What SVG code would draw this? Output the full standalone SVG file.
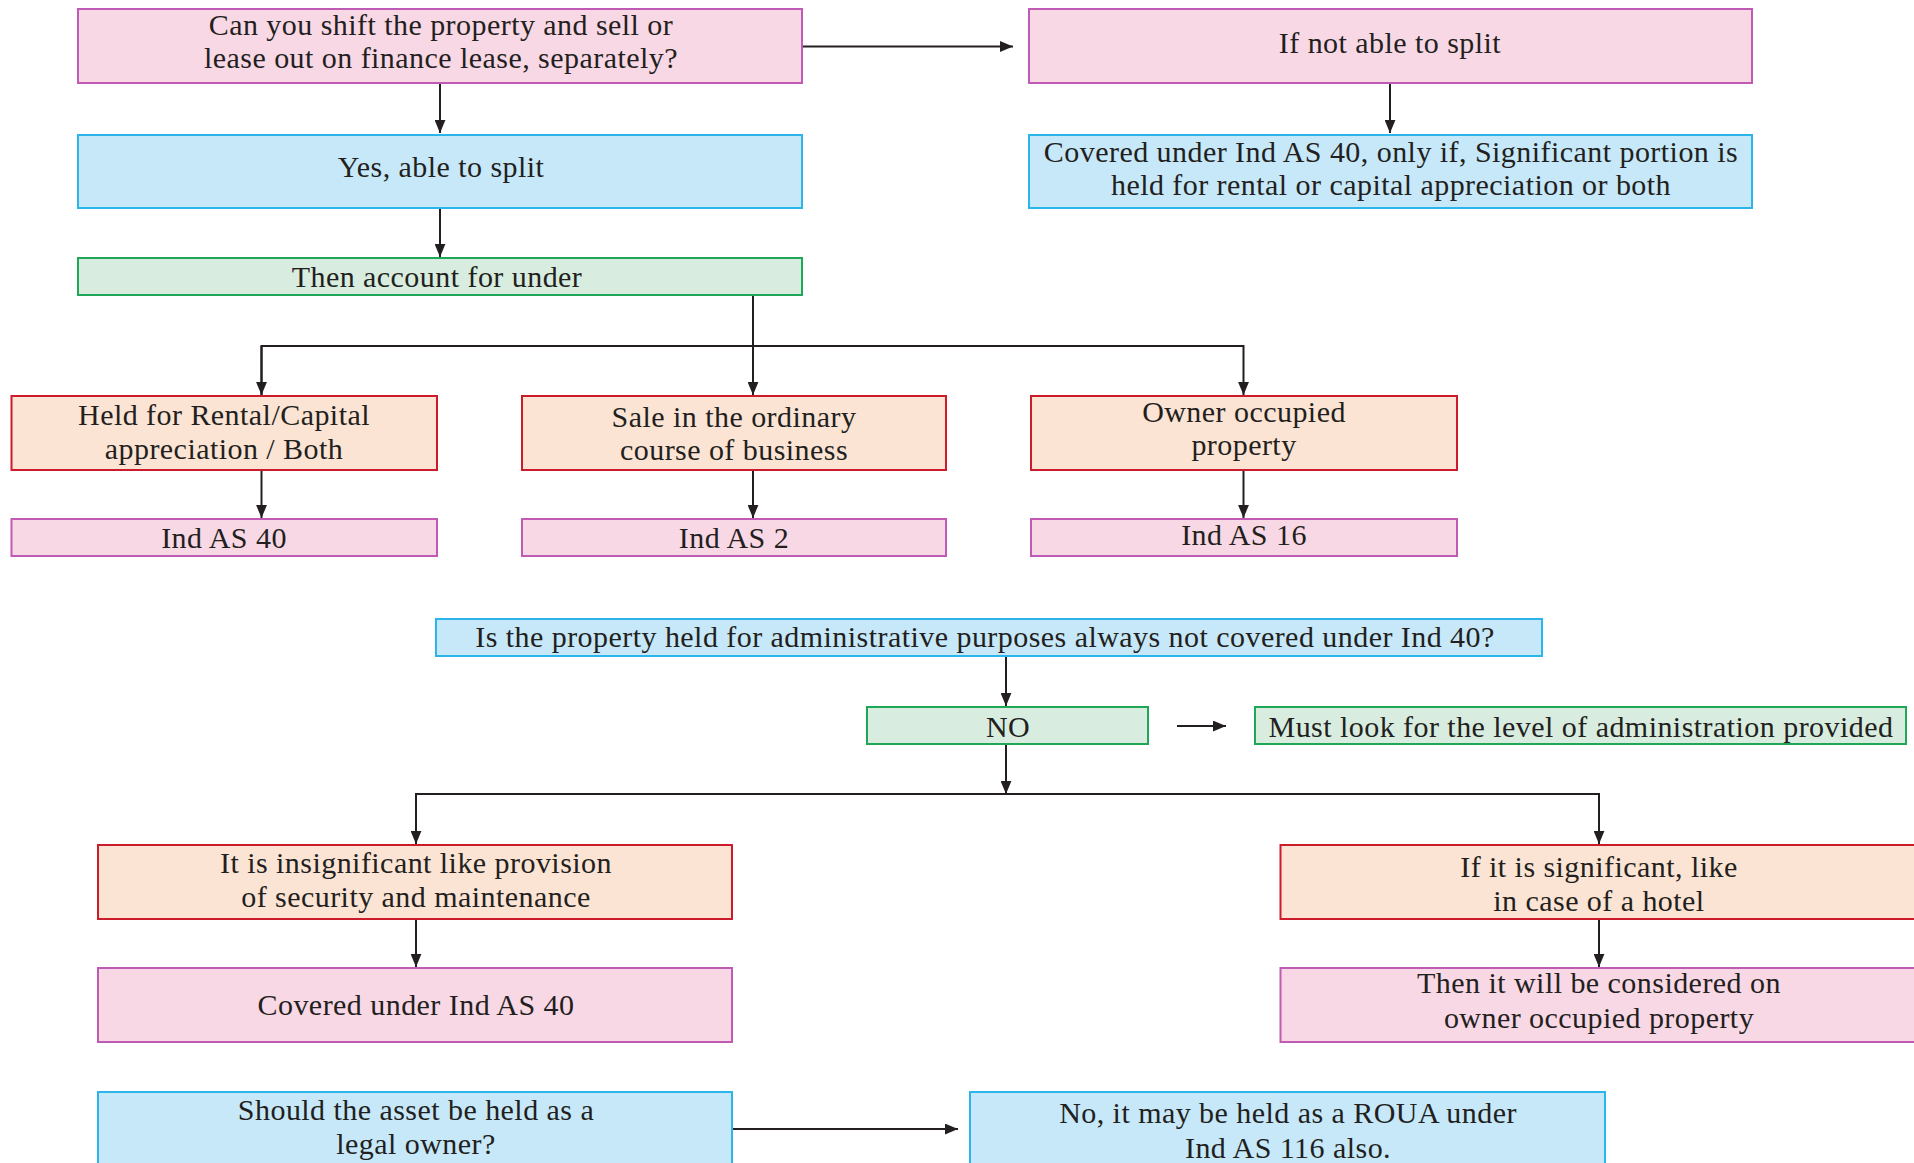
<svg xmlns="http://www.w3.org/2000/svg" width="1914" height="1163" viewBox="0 0 1914 1163">
<defs>
<style>
.pk{fill:#F9D8E6;stroke:#BF5BB4;stroke-width:2}
.bl{fill:#C6E8F9;stroke:#2BB5EA;stroke-width:2}
.gr{fill:#D8EDDF;stroke:#1EA757;stroke-width:2}
.pc{fill:#FCE4D4;stroke:#CC1B2A;stroke-width:2}
text{font-family:"Liberation Serif","Times New Roman",serif;font-size:30px;letter-spacing:0.45px;fill:#231F20;text-anchor:middle}
.ln{fill:none;stroke:#231F20;stroke-width:2}
</style>
<marker id="ah" viewBox="0 0 12 10" refX="12" refY="5" markerWidth="6.5" markerHeight="5.5" markerUnits="strokeWidth" orient="auto"><path d="M0,0 L12,5 L0,10 Z" fill="#231F20"/></marker>
</defs>
<rect width="1914" height="1163" fill="#FFFFFF"/>
<g id="connectors">
<path class="ln" d="M802,46.5 H1013" marker-end="url(#ah)"/>
<path class="ln" d="M440,83 V133" marker-end="url(#ah)"/>
<path class="ln" d="M1390,83 V133" marker-end="url(#ah)"/>
<path class="ln" d="M440,208 V257" marker-end="url(#ah)"/>
<path class="ln" d="M753,295 V395" marker-end="url(#ah)"/>
<path class="ln" d="M261.5,395 V346 H1243.5 V395" marker-end="url(#ah)"/>
<path class="ln" d="M261.5,346 V395" marker-end="url(#ah)"/>
<path class="ln" d="M261.5,470 V518" marker-end="url(#ah)"/>
<path class="ln" d="M753,470 V518" marker-end="url(#ah)"/>
<path class="ln" d="M1243.5,470 V518" marker-end="url(#ah)"/>
<path class="ln" d="M1006,656 V706" marker-end="url(#ah)"/>
<path class="ln" d="M1177,726 H1226" marker-end="url(#ah)"/>
<path class="ln" d="M1006,744 V794" marker-end="url(#ah)"/>
<path class="ln" d="M416,844 V794 H1599 V844" marker-end="url(#ah)"/>
<path class="ln" d="M416,794 V844" marker-end="url(#ah)"/>
<path class="ln" d="M416,919 V967" marker-end="url(#ah)"/>
<path class="ln" d="M1599,919 V967" marker-end="url(#ah)"/>
<path class="ln" d="M732,1129 H958" stroke-width="3" marker-end="url(#ah)"/>
</g>
<g id="nA"><rect class="pk" x="78" y="9" width="724" height="74"/><text x="441" y="35">Can you shift the property and sell or</text><text x="441" y="68">lease out on finance lease, separately?</text></g>
<g id="nB"><rect class="pk" x="1029" y="9" width="723" height="74"/><text x="1390" y="53">If not able to split</text></g>
<g id="nC"><rect class="bl" x="78" y="135" width="724" height="73"/><text x="441" y="177">Yes, able to split</text></g>
<g id="nD"><rect class="bl" x="1029" y="135" width="723" height="73"/><text x="1391" y="162">Covered under Ind AS 40, only if, Significant portion is</text><text x="1391" y="195">held for rental or capital appreciation or both</text></g>
<g id="nE"><rect class="gr" x="78" y="258" width="724" height="37"/><text x="437" y="287">Then account for under</text></g>
<g id="nF1"><rect class="pc" x="11.5" y="396" width="425.5" height="74"/><text x="224" y="425">Held for Rental/Capital</text><text x="224" y="459">appreciation / Both</text></g>
<g id="nF2"><rect class="pc" x="522" y="396" width="424" height="74"/><text x="734" y="427">Sale in the ordinary</text><text x="734" y="460">course of business</text></g>
<g id="nF3"><rect class="pc" x="1031" y="396" width="426" height="74"/><text x="1244" y="422">Owner occupied</text><text x="1244" y="455">property</text></g>
<g id="nG1"><rect class="pk" x="11.5" y="519" width="425.5" height="37"/><text x="224" y="548">Ind AS 40</text></g>
<g id="nG2"><rect class="pk" x="522" y="519" width="424" height="37"/><text x="734" y="548">Ind AS 2</text></g>
<g id="nG3"><rect class="pk" x="1031" y="519" width="426" height="37"/><text x="1244" y="545">Ind AS 16</text></g>
<g id="nH"><rect class="bl" x="436" y="619" width="1106" height="37"/><text x="985" y="647">Is the property held for administrative purposes always not covered under Ind 40?</text></g>
<g id="nI"><rect class="gr" x="867" y="707" width="281" height="37"/><text x="1008" y="737">NO</text></g>
<g id="nJ"><rect class="gr" x="1255" y="707" width="651" height="37"/><text x="1581" y="737">Must look for the level of administration provided</text></g>
<g id="nK1"><rect class="pc" x="98" y="845" width="634" height="74"/><text x="416" y="873">It is insignificant like provision</text><text x="416" y="907">of security and maintenance</text></g>
<g id="nK2"><rect class="pc" x="1280.5" y="845" width="650" height="74"/><text x="1599" y="877">If it is significant, like</text><text x="1599" y="911">in case of a hotel</text></g>
<g id="nL1"><rect class="pk" x="98" y="968" width="634" height="74"/><text x="416" y="1015">Covered under Ind AS 40</text></g>
<g id="nL2"><rect class="pk" x="1280.5" y="968" width="650" height="74"/><text x="1599" y="993">Then it will be considered on</text><text x="1599" y="1028">owner occupied property</text></g>
<g id="nM1"><rect class="bl" x="98" y="1092" width="634" height="90"/><text x="416" y="1120">Should the asset be held as a</text><text x="416" y="1154">legal owner?</text></g>
<g id="nM2"><rect class="bl" x="970" y="1092" width="635" height="90"/><text x="1288" y="1123">No, it may be held as a ROUA under</text><text x="1288" y="1158">Ind AS 116 also.</text></g>
</svg>
